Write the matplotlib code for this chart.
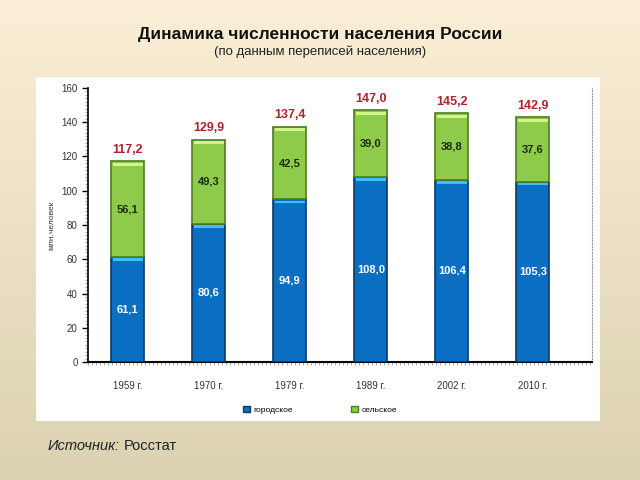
import numpy as np
import matplotlib
matplotlib.use('Agg')
from matplotlib import pyplot as plt
from matplotlib.patches import Rectangle, Patch

plt.rcParams['font.family'] = ['Liberation Sans Narrow', 'Liberation Sans', 'DejaVu Sans']

# census data, millions of people
years = ['1959 г.', '1970 г.', '1979 г.', '1989 г.', '2002 г.', '2010 г.']
urban = [61.1, 80.6, 94.9, 108.0, 106.4, 105.3]
rural = [56.1, 49.3, 42.5, 39.0, 38.8, 37.6]
totals = [117.2, 129.9, 137.4, 147.0, 145.2, 142.9]
series_names = ['городское', 'сельское']


def fmt(v):
    return ('%.1f' % v).replace('.', ',')


fig = plt.figure(figsize=(6.4, 4.8), dpi=100)

# beige gradient background
bg = fig.add_axes([0, 0, 1, 1], zorder=-10)
top_c = np.array([251, 238, 214]) / 255.0
bot_c = np.array([219, 210, 178]) / 255.0
t = np.linspace(0, 1, 256)[:, None]
grad = top_c[None, :] * (1 - t) + bot_c[None, :] * t
bg.imshow(grad[:, None, :], aspect='auto', extent=[0, 1, 0, 1])
bg.axis('off')

# white chart panel
fig.patches.append(Rectangle((36 / 640, 1 - 421 / 480), (600 - 36) / 640, (421 - 77) / 480,
                             transform=fig.transFigure, facecolor='white', edgecolor='none',
                             zorder=-5))

fig.text(0.5, 1 - 34 / 480, 'Динамика численности населения России', ha='center', va='center',
         fontsize=12.5, fontweight='bold', family=['Liberation Sans', 'DejaVu Sans'], color='#111111')
fig.text(0.5, 1 - 52 / 480, '(по данным переписей населения)', ha='center', va='center',
         fontsize=9.5, family=['Liberation Sans', 'DejaVu Sans'], color='#222222')

ax = fig.add_axes([88 / 640, 1 - 362 / 480, (592 - 88) / 640, (362 - 88) / 480])
ax.set_facecolor('none')
x = np.arange(len(years))
w = 0.41

blue, blue_top, blue_edge = '#0a6fc2', '#3cc0f5', '#0b3a66'
green, green_top, green_edge = '#8fcb4a', '#d2f58a', '#4f7d22'

ax.bar(x, urban, w, color=blue, edgecolor=blue_edge, linewidth=1.2, zorder=3)
ax.bar(x, rural, w, bottom=urban, color=green, edgecolor=green_edge, linewidth=1.2, zorder=3)
# light strips along the top of each segment
ax.bar(x, [1.6] * len(x), w * 0.9, bottom=np.array(urban) - 2.2, color=blue_top,
       linewidth=0, zorder=4)
ax.bar(x, [2.0] * len(x), w * 0.9, bottom=np.array(totals) - 2.8, color=green_top,
       linewidth=0, zorder=4)

for i in range(len(x)):
    ax.text(x[i], urban[i] / 2, fmt(urban[i]), ha='center', va='center', fontsize=8,
            fontweight='bold', color='white', zorder=5)
    ax.text(x[i], urban[i] + rural[i] / 2, fmt(rural[i]), ha='center', va='center', fontsize=8,
            fontweight='bold', color='#1c2a10', zorder=5)
    ax.annotate(fmt(totals[i]), (x[i], totals[i]), xytext=(0, 4), textcoords='offset points',
                ha='center', va='bottom', fontsize=9, fontweight='bold', color='#b0232a')

ax.set_xlim(-0.49, 5.73)
ax.set_ylim(0, 160)
ax.set_yticks(np.arange(0, 161, 20))
ax.set_yticks(np.arange(0, 161, 2), minor=True)
ax.set_xticks(x)
ax.set_xticklabels(years)
ax.set_xticks(np.arange(-0.49, 5.73, 0.05), minor=True)
ax.tick_params(axis='y', which='major', length=4, width=1, labelsize=7, labelcolor='#333333')
ax.tick_params(axis='y', which='minor', length=2, width=0.5, color='#888888')
ax.tick_params(axis='x', which='major', length=0, pad=14, labelsize=7, labelcolor='#333333')
ax.tick_params(axis='x', which='minor', length=2.5, width=0.5, color='#888888')
ax.spines['top'].set_visible(False)
ax.spines['right'].set_linestyle(':')
ax.spines['right'].set_color('#999999')
ax.spines['left'].set_linewidth(1.2)
ax.spines['bottom'].set_linewidth(1.5)
ax.set_ylabel('млн.человек', fontsize=6, color='#333333', labelpad=4)

handles = [Patch(facecolor=blue, edgecolor=blue_edge), Patch(facecolor=green, edgecolor=green_edge)]
fig.legend(handles, series_names, loc='center', bbox_to_anchor=(0.5, 1 - 410 / 480), ncol=2,
           frameon=False, fontsize=6, handlelength=0.8, handleheight=0.8, handletextpad=0.4,
           columnspacing=7)

# source note: italic label + normal text
src = fig.text(48 / 640, 1 - 446 / 480, 'Источник:', ha='left', va='center', fontsize=10.5,
               style='italic', family=['Liberation Sans', 'DejaVu Sans'], color='#222222')
fig.canvas.draw()
bb = src.get_window_extent().transformed(fig.transFigure.inverted())
fig.text(bb.x1 + 0.005, 1 - 446 / 480, 'Росстат', ha='left', va='center', fontsize=10.5,
         family=['Liberation Sans', 'DejaVu Sans'], color='#222222')

fig.savefig('out.png', dpi=100)
